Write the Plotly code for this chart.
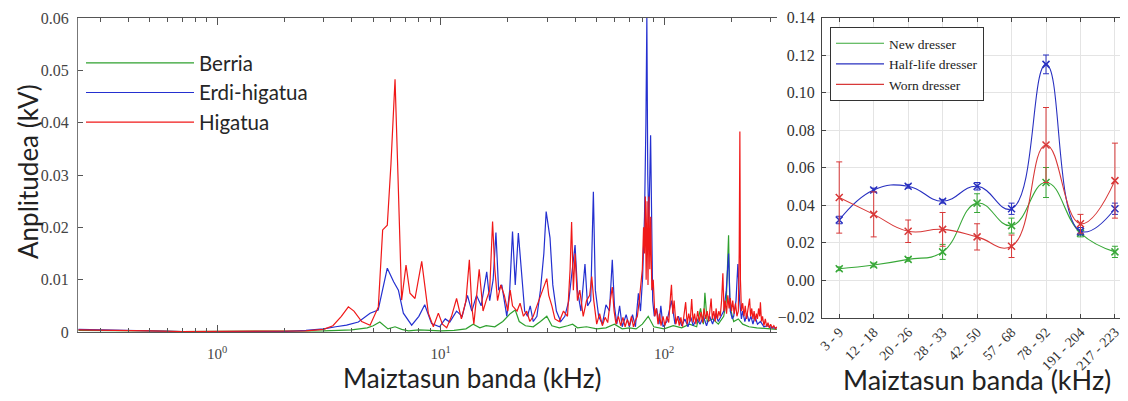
import plotly.graph_objects as go

# ---------------- Left chart: spectrum (kHz, kV) ----------------
freq_berria = [0.24, 0.3, 0.4, 0.5, 0.7, 1.0, 1.5, 2.0, 2.5, 3.0, 3.5, 4.0, 4.7, 5.0, 5.35, 5.6, 5.82, 6.26, 6.7, 7.2,
               8.0, 9.0, 10.0, 11.5, 13.0, 14.0, 15.0, 16.0, 17.5, 19.0, 20.5, 21.6, 22.5, 24.0, 26.0, 28.0, 29.9,
               31.5, 34.0, 37.0, 39.0, 41.0, 45.0, 50.0, 55, 60, 65, 70, 75, 80, 85, 90, 100, 110, 120, 130, 140,
               145.7, 150, 152.4, 156, 165, 175, 185, 190, 194.5, 197, 205, 215, 225, 240, 260, 290, 320]
amp_berria = [0.0003, 0.0003, 0.0002, 0.0002, 0.0001, 0.0001, 0.0001, 0.0001, 0.0001, 0.0002, 0.0003, 0.0004, 0.0008,
              0.0012, 0.0019, 0.0012, 0.0006, 0.0010, 0.0005, 0.0002, 0.0004, 0.0003, 0.0002, 0.0003, 0.0006, 0.0015,
              0.0008, 0.0012, 0.0010, 0.0020, 0.0035, 0.0042, 0.0020, 0.0012, 0.0010, 0.0020, 0.0030, 0.0012, 0.0008,
              0.0012, 0.0015, 0.0008, 0.0010, 0.0006, 0.0008, 0.0015, 0.0006, 0.0008, 0.0006, 0.0015, 0.0030, 0.0010,
              0.0006, 0.0012, 0.0008, 0.0015, 0.0010, 0.0045, 0.0015, 0.0075, 0.0020, 0.0025, 0.0015, 0.0030, 0.0060,
              0.0185, 0.0050, 0.0020, 0.0025, 0.0015, 0.0010, 0.0008, 0.0006, 0.0005]

freq_erdi = [0.24, 0.3, 0.4, 0.5, 0.7, 1.0, 1.5, 2.0, 2.5, 3.0, 3.4, 3.8, 4.29, 4.84, 5.26, 5.5, 5.78, 6.17, 6.48, 6.82,
             7.43, 8.0, 8.5, 9.12, 9.9, 10.5, 11.0, 11.8, 12.5, 13.2, 13.8, 14.5, 15.2, 16.1, 16.6, 17.2, 17.7, 18.2,
             18.8, 19.8, 20.4, 21.0, 21.6, 22.3, 23.3, 23.8, 24.5, 25.2, 26.0, 27.0, 28.0, 29.0, 29.7, 30.9, 31.8,
             33.0, 34.5, 36.0, 37.5, 39.0, 40.0, 41.0, 42.5, 44.3, 45.5, 47.0, 48.3, 49.3, 51.0, 53.0, 55.0, 57.0,
             58.7, 60.0, 61.5, 63.3, 65.0, 67.7, 70.0, 72.3, 74.5, 76.8, 78.5, 80.2, 81.8, 83.0, 83.8, 84.6, 85.5,
             87.1, 88.5, 89.0, 90.5, 92.7, 95.0, 96.8, 99, 103, 108, 112, 116, 120, 124, 128, 132, 135, 140, 145,
             150, 155, 160, 165, 170, 175, 180, 185, 190, 194.5, 198, 202, 205, 210, 214, 218, 222, 225, 230, 235,
             240, 245, 250, 255, 262, 270, 280, 290, 305, 320]
amp_erdi = [0.0005, 0.0004, 0.0003, 0.0002, 0.0001, 0.0001, 0.0001, 0.0001, 0.0003, 0.0006, 0.0010, 0.0013, 0.0019,
            0.0036, 0.0042, 0.0080, 0.0122, 0.0096, 0.0080, 0.0036, 0.0013, 0.0030, 0.0052, 0.0016, 0.0010, 0.0025,
            0.0019, 0.0040, 0.0030, 0.0070, 0.0040, 0.0070, 0.0050, 0.0115, 0.0060, 0.0100, 0.0190, 0.0080, 0.0090,
            0.0030, 0.0080, 0.0192, 0.0090, 0.0189, 0.0076, 0.0040, 0.0030, 0.0050, 0.0020, 0.0030, 0.0080, 0.0150,
            0.0230, 0.0180, 0.0090, 0.0040, 0.0020, 0.0030, 0.0060, 0.0120, 0.0166, 0.0080, 0.0040, 0.0130, 0.0050,
            0.0060, 0.0268, 0.0080, 0.0030, 0.0015, 0.0052, 0.0040, 0.0138, 0.0050, 0.0015, 0.0050, 0.0010, 0.0033,
            0.0010, 0.0033, 0.0010, 0.0074, 0.0040, 0.0103, 0.0220, 0.0400, 0.0600, 0.0300, 0.0200, 0.0376, 0.0150,
            0.0060, 0.0030, 0.0045, 0.0015, 0.0050, 0.0010, 0.0020, 0.0060, 0.0015, 0.0030, 0.0012, 0.0025, 0.0010,
            0.0028, 0.0012, 0.0025, 0.0015, 0.0030, 0.0012, 0.0030, 0.0015, 0.0035, 0.0020, 0.0030, 0.0040, 0.0080,
            0.0150, 0.0040, 0.0025, 0.0030, 0.0060, 0.0130, 0.0060, 0.0025, 0.0040, 0.0020, 0.0035, 0.0020, 0.0030,
            0.0015, 0.0030, 0.0015, 0.0020, 0.0010, 0.0012, 0.0008, 0.0008]

freq_higatua = [0.24, 0.3, 0.4, 0.5, 0.7, 1.0, 1.5, 2.0, 2.5, 3.0, 3.3, 3.6, 3.87, 4.1, 4.44, 4.84, 5.27, 5.51, 5.78,
                6.0, 6.26, 6.45, 6.70, 7.01, 7.30, 7.69, 8.24, 8.82, 9.29, 9.78, 10.2, 10.66, 11.2, 11.8, 12.4, 13.0,
                13.46, 13.8, 14.1, 14.9, 15.5, 16.0, 16.6, 17.1, 17.5, 18.0, 18.6, 19.3, 20.0, 20.5, 21.0, 22.0, 22.7,
                23.5, 24.3, 25.1, 26.0, 27.0, 28.0, 29.0, 29.9, 30.5, 31.5, 32.5, 34.0, 35.5, 37.0, 38.0, 38.6, 39.3,
                40.0, 41.0, 42.0, 43.5, 45.0, 46.5, 47.5, 48.5,
                50.0, 51.5, 53.0, 54.5, 56.0, 57.5, 58.7, 59.8, 61.0, 62.5, 64.0, 65.5, 67.0, 68.5, 70.0, 71.5, 73.0,
                74.5, 76.0, 77.5, 79.0, 80.0, 81.0, 81.8, 82.5, 83.2, 84.0, 84.8, 85.6, 86.4, 87.2, 88.2, 89.5, 91.0,
                92.5, 94.0, 95.5, 97.0, 99.0, 101, 103, 105, 107, 108, 109.5, 111, 113, 115, 117, 119, 121, 123, 125,
                127, 129, 131, 133, 135, 137, 139, 141.5, 144, 146.5, 149, 151, 153.5, 156, 158.5, 161, 162.5, 164.5,
                167, 169.5, 171, 173.5, 176, 178.5, 181, 183.4, 185.5, 188, 190.5, 193, 195.5, 198, 200.5, 203, 206,
                209, 212, 215, 217, 218.5, 219.8, 222, 225, 228, 231, 234, 237, 240, 241.5, 244, 247, 250, 253, 256,
                259, 262, 265, 268, 270, 273, 276, 280, 284, 288, 292, 296, 300, 305, 310, 315, 320]
amp_higatua = [0.0004, 0.0003, 0.0003, 0.0002, 0.0001, 0.0001, 0.0001, 0.0001, 0.0002, 0.0005, 0.0012, 0.0030, 0.0048,
               0.0040, 0.0020, 0.0013, 0.0048, 0.0195, 0.0204, 0.0320, 0.0483, 0.0300, 0.0061, 0.0128, 0.0074, 0.0064,
               0.0135, 0.0036, 0.0010, 0.0036, 0.0015, 0.0008, 0.0030, 0.0064, 0.0025, 0.0060, 0.0138, 0.0050, 0.0015,
               0.0120, 0.0040, 0.0060, 0.0080, 0.0211, 0.0120, 0.0060, 0.0090, 0.0070, 0.0040, 0.0080, 0.0050, 0.0040,
               0.0055, 0.0030, 0.0040, 0.0020, 0.0030, 0.0050, 0.0070, 0.0085, 0.0102, 0.0070, 0.0050, 0.0025, 0.0020,
               0.0040, 0.0030, 0.0120, 0.0210, 0.0080, 0.0150, 0.0060, 0.0080, 0.0030, 0.0060, 0.0070, 0.0106, 0.0060,
               0.0015, 0.0035, 0.0012, 0.0028, 0.0018, 0.0060, 0.0086, 0.0040, 0.0015, 0.0030, 0.0012, 0.0028, 0.0010,
               0.0024, 0.0012, 0.0030, 0.0010, 0.0022, 0.0030, 0.0060, 0.0090, 0.0120, 0.0200, 0.0150, 0.0259, 0.0100,
               0.0250, 0.0090, 0.0259, 0.0120, 0.0220, 0.0080, 0.0100, 0.0030, 0.0045, 0.0015, 0.0035, 0.0012, 0.0030,
               0.0012, 0.0030, 0.0018, 0.0070, 0.0090, 0.0035, 0.0060, 0.0015, 0.0030, 0.0012, 0.0028, 0.0010, 0.0030,
               0.0057, 0.0015, 0.0035, 0.0020, 0.0063, 0.0018, 0.0035, 0.0015, 0.0040, 0.0020, 0.0038, 0.0018, 0.0045,
               0.0025, 0.0040, 0.0020, 0.0055, 0.0064, 0.0025, 0.0040, 0.0020, 0.0045, 0.0025, 0.0040, 0.0030, 0.0060,
               0.0112, 0.0040, 0.0060, 0.0035, 0.0070, 0.0045, 0.0065, 0.0040, 0.0060, 0.0035, 0.0055, 0.0030, 0.0040,
               0.0150, 0.0383, 0.0100, 0.0040, 0.0055, 0.0030, 0.0050, 0.0025, 0.0045, 0.0060, 0.0064, 0.0030, 0.0045,
               0.0025, 0.0040, 0.0020, 0.0035, 0.0025, 0.0045, 0.0030, 0.0057, 0.0020, 0.0030, 0.0012, 0.0025, 0.0010,
               0.0018, 0.0008, 0.0015, 0.0008, 0.0012, 0.0006, 0.0010]

spec_names = ["Berria", "Erdi-higatua", "Higatua"]
spec_colors = ["#2ea02e", "#2430d0", "#f01818"]

# ---------------- Right chart: band amplitudes ----------------
bands = ["3 - 9", "12 - 18", "20 - 26", "28 - 33", "42 - 50", "57 - 68", "78 - 92", "191 - 204", "217 - 223"]
new_dresser = [0.006, 0.008, 0.011, 0.015, 0.041, 0.029, 0.052, 0.025, 0.015]
new_err = [0.001, 0.001, 0.001, 0.004, 0.005, 0.004, 0.008, 0.002, 0.003]
half_dresser = [0.032, 0.048, 0.050, 0.042, 0.050, 0.038, 0.115, 0.026, 0.038]
half_err = [0.002, 0.001, 0.001, 0.001, 0.002, 0.003, 0.005, 0.002, 0.003]
worn_dresser = [0.044, 0.035, 0.026, 0.027, 0.023, 0.018, 0.072, 0.030, 0.053]
worn_err = [0.019, 0.012, 0.006, 0.009, 0.007, 0.006, 0.020, 0.005, 0.020]
band_names = ["New dresser", "Half-life dresser", "Worn dresser"]
band_colors = ["#38a838", "#2830c0", "#d83838"]

fig = go.Figure()

spec_x = [freq_berria, freq_erdi, freq_higatua]
spec_y = [amp_berria, amp_erdi, amp_higatua]
for i in range(3):
    fig.add_trace(go.Scatter(
        x=spec_x[i], y=spec_y[i], mode="lines", name=spec_names[i],
        line=dict(color=spec_colors[i], width=1.2), xaxis="x", yaxis="y",
        legend="legend", legendgroup="s%d" % i))

band_y = [new_dresser, half_dresser, worn_dresser]
band_e = [new_err, half_err, worn_err]
for i in range(3):
    # smooth line (legend entry)
    fig.add_trace(go.Scatter(
        x=bands, y=band_y[i], mode="lines", name=band_names[i],
        line=dict(color=band_colors[i], width=1.1, shape="spline", smoothing=1.3),
        xaxis="x2", yaxis="y2", legend="legend2", legendgroup="b%d" % i))
    # markers with error bars
    fig.add_trace(go.Scatter(
        x=bands, y=band_y[i], mode="markers", name=band_names[i], showlegend=False,
        marker=dict(symbol="x-thin", size=7, line=dict(color=band_colors[i], width=1.5)),
        error_y=dict(type="data", array=band_e[i], visible=True, color=band_colors[i], thickness=1, width=3),
        xaxis="x2", yaxis="y2", legendgroup="b%d" % i))

# The page body adds an 8 px offset; the figure is sized to fill the rest of the window.
OFF = 8
W, H = 1128 - OFF, 401 - OFF


def fx(px):
    return (px - OFF) / W


def fy(py):
    return 1 - (py - OFF) / H


serif = "Liberation Serif, Times New Roman, serif"
sans = "Lato, Open Sans, sans-serif"

minor_vals = [0.3, 0.4, 0.5, 0.6, 0.7, 0.8, 0.9, 2, 3, 4, 5, 6, 7, 8, 9, 20, 30, 40, 50, 60, 70, 80, 90, 200, 300]

fig.update_layout(
    width=W, height=H, margin=dict(l=0, r=0, t=0, b=0, autoexpand=False),
    paper_bgcolor="white", plot_bgcolor="white",
    xaxis=dict(type="log", domain=[fx(78), fx(777)], range=[-0.622, 2.5056], automargin=False,
               tickvals=[1, 10, 100], ticktext=["10<sup>0</sup>", "10<sup>1</sup>", "10<sup>2</sup>"],
               ticks="inside", ticklen=7, tickcolor="#555", showline=True, linecolor="#555", linewidth=1,
               mirror="ticks", showgrid=False, zeroline=False,
               minor=dict(tickvals=minor_vals, ticks="inside", ticklen=4, tickcolor="#555", showgrid=False),
               tickfont=dict(family=serif, size=15, color="#444"), ticklabelstandoff=8),
    yaxis=dict(domain=[fy(332), fy(18)], range=[0, 0.06], automargin=False,
               tickvals=[0, 0.01, 0.02, 0.03, 0.04, 0.05, 0.06],
               ticktext=["0", "0.01", "0.02", "0.03", "0.04", "0.05", "0.06"],
               ticks="inside", ticklen=5, tickcolor="#555", showline=True, linecolor="#777", linewidth=1,
               showgrid=False, zeroline=False,
               tickfont=dict(family=serif, size=16, color="#444"), ticklabelstandoff=5),
    xaxis2=dict(domain=[fx(822), fx(1127)], range=[-0.5, 8.35], type="category", automargin=False,
                tickangle=-45, ticks="inside", ticklen=4, tickcolor="#444",
                showline=True, linecolor="#444", linewidth=1, mirror="ticks",
                showgrid=True, gridcolor="#e4e4e4", gridwidth=1,
                tickfont=dict(family=serif, size=14, color="#333"), anchor="y2"),
    yaxis2=dict(domain=[fy(317.5), fy(17.5)], range=[-0.02, 0.14], dtick=0.02, tickformat=".2f",
                automargin=False,
                ticks="inside", ticklen=4, tickcolor="#444", showline=True, linecolor="#444", linewidth=1,
                showgrid=True, gridcolor="#e4e4e4", gridwidth=1, zeroline=False,
                tickfont=dict(family=serif, size=16, color="#333"), anchor="x2", ticklabelstandoff=3),
    legend=dict(x=fx(81), y=fy(43), xanchor="left", yanchor="top", bgcolor="rgba(0,0,0,0)",
                font=dict(family=sans, size=20.5, color="#262626"), itemwidth=108, tracegroupgap=0),
    legend2=dict(x=fx(830), y=fy(27), xanchor="left", yanchor="top", bgcolor="white",
                 bordercolor="#333", borderwidth=1,
                 font=dict(family=serif, size=13.5, color="#222"), itemwidth=48, tracegroupgap=0),
    annotations=[
        dict(text="Maiztasun banda (kHz)", x=fx(472), y=fy(378), xref="paper", yref="paper",
             showarrow=False, font=dict(family=sans, size=26, color="#222"), xanchor="center", yanchor="middle"),
        dict(text="Maiztasun banda (kHz)", x=fx(977), y=fy(379), xref="paper", yref="paper",
             showarrow=False, font=dict(family=sans, size=27, color="#222"), xanchor="center", yanchor="middle"),
        dict(text="Anplitudea (kV)", x=fx(28), y=fy(172), xref="paper", yref="paper", textangle=-90,
             showarrow=False, font=dict(family=sans, size=26, color="#222"), xanchor="center", yanchor="middle"),
    ],
)

fig.write_html("out.html")
